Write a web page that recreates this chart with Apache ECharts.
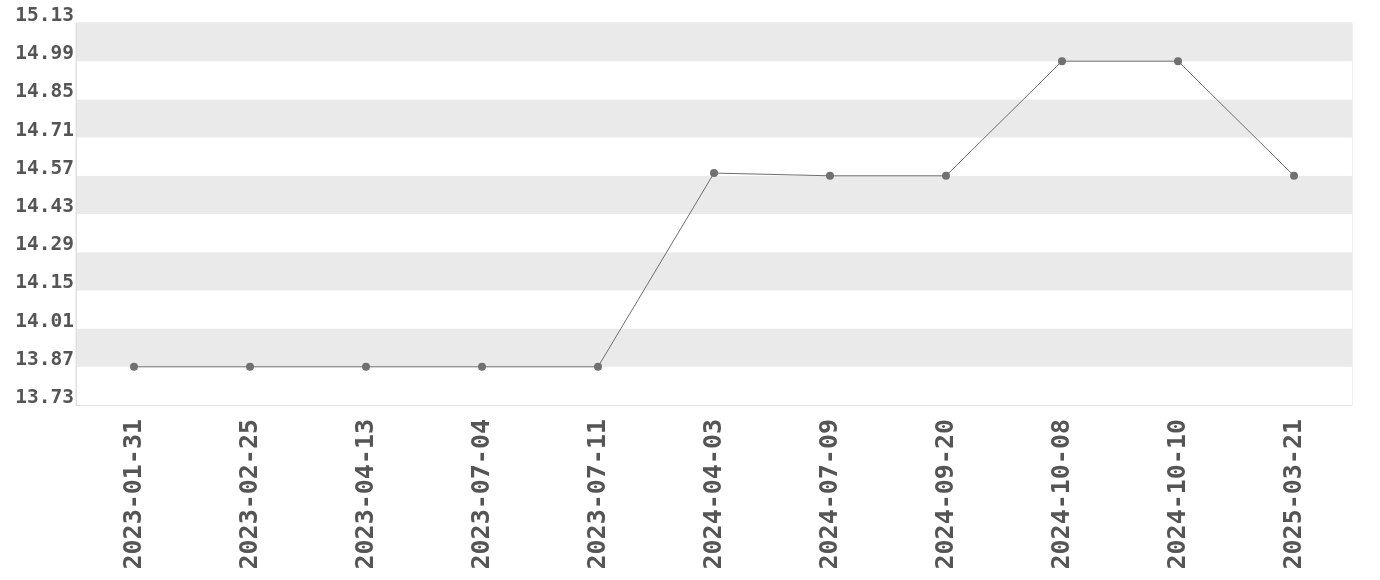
<!DOCTYPE html>
<html>
<head>
<meta charset="utf-8">
<script src="https://cdn.jsdelivr.net/npm/echarts@6/dist/echarts.min.js"></script>
<style>html,body{margin:0;padding:0;background:#fff}#c{width:1380px;height:580px}</style>
</head>
<body>
<div id="c"></div>
<script>
const categories = ['2023-01-31','2023-02-25','2023-04-13','2023-07-04','2023-07-11','2024-04-03','2024-07-09','2024-09-20','2024-10-08','2024-10-10','2025-03-21'];
const values = [13.87,13.87,13.87,13.87,13.87,14.58,14.57,14.57,14.99,14.99,14.57];
const yMin = 13.73, yMax = 15.13, yStep = 0.14;

const font = 'DejaVu Sans Mono';
const chart = echarts.init(document.getElementById('c'));
chart.setOption({
  animation: false,
  grid: {left: 76, right: 28, top: 23, bottom: 175, show: true, borderColor: '#e0e0e0', borderWidth: 1},
  xAxis: {
    type: 'category', data: categories, boundaryGap: true,
    axisLine: {show: true, lineStyle: {color: '#e0e0e0'}},
    axisTick: {show: false},
    axisLabel: {rotate: 90, color: '#555', fontFamily: font, fontWeight: 'bold', fontSize: 25, margin: 14, interval: 0}
  },
  yAxis: {
    type: 'value', min: yMin, max: yMax, interval: yStep,
    axisLine: {show: true, lineStyle: {color: '#e0e0e0'}},
    axisTick: {show: false},
    splitLine: {show: false},
    splitArea: {show: true, areaStyle: {color: ['#ffffff', '#eaeaea']}},
    axisLabel: {color: '#555', fontFamily: font, fontWeight: 'bold', fontSize: 19.5, margin: 2,
      verticalAlign: 'bottom', lineHeight: 14,
      formatter: v => v.toFixed(2)}
  },
  series: [{
    type: 'line', data: values,
    symbol: 'circle', symbolSize: 8,
    lineStyle: {color: '#6e6e6e', width: 1},
    itemStyle: {color: '#707070'}
  }]
});
</script>
</body>
</html>
